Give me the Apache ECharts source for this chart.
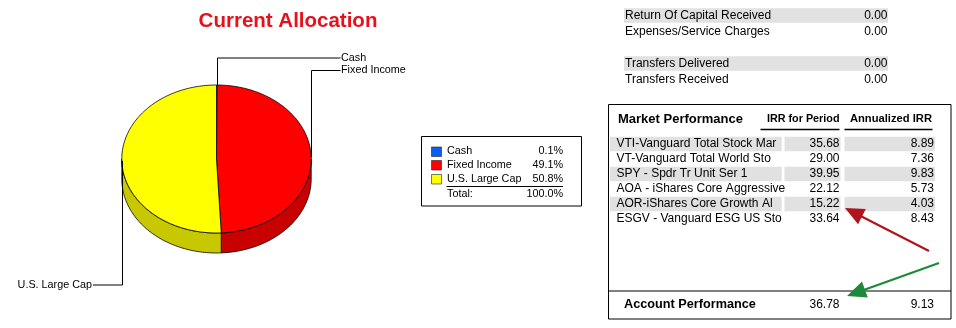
<!DOCTYPE html>
<html>
<head>
<meta charset="utf-8">
<script src="https://cdn.jsdelivr.net/npm/echarts@6/dist/echarts.min.js"></script>
<style>
html,body{margin:0;padding:0;background:#fff;}
#chart{width:956px;height:328px;}
</style>
</head>
<body>
<div id="chart"></div>
<script>
// ---------------- DATA ----------------
const allocCategories = ['Cash', 'Fixed Income', 'U.S. Large Cap'];
const allocPercent = [0.1, 49.1, 50.8];

const cashFlowLabels = ['Return Of Capital Received', 'Expenses/Service Charges', 'Transfers Delivered', 'Transfers Received'];
const cashFlowValues = [0.00, 0.00, 0.00, 0.00];

const holdingNames = [
  'VTI-Vanguard Total Stock Mar',
  'VT-Vanguard Total World Sto',
  'SPY - Spdr Tr Unit Ser 1',
  'AOA - iShares Core Aggressive',
  'AOR-iShares Core Growth Al',
  'ESGV - Vanguard ESG US Sto'
];
const irrForPeriod = [35.68, 29.00, 39.95, 22.12, 15.22, 33.64];
const annualizedIrr = [8.89, 7.36, 9.83, 5.73, 4.03, 8.43];
const accountPerformance = [36.78, 9.13];

// ---------------- LAYOUT / STYLE ----------------
const FONT = '"Liberation Sans", Arial, sans-serif';
const PIE = { cx: 216.5, cy: 159, rx: 94.7, ry: 74, depth: 20 };
const TOP_COLORS = ['#0b5ff0', '#ff0000', '#ffff00'];
const SIDE_COLORS = ['#0840a8', '#c80000', '#c8c800'];
const LABEL_Y = [58, 70.5, 285];
const RIGHT_LABEL_X = 340.5, LEFT_LABEL_X = 93;
const GREY = '#e1e1e1';

function txt(x, y, text, opt) {
  opt = opt || {};
  const align = opt.align || 'left';
  return {
    type: 'text', x: x, y: y, z: 10,
    style: {
      text: text,
      fill: opt.color || '#000',
      fontSize: opt.size || 12,
      fontFamily: opt.family || FONT,
      fontWeight: opt.weight || 'normal',
      align: align, textAlign: align,
      verticalAlign: 'middle', textVerticalAlign: 'middle'
    }
  };
}
function rect(x, y, w, h, fill, stroke, lw) {
  return { type: 'rect', z: 1, shape: { x: x, y: y, width: w, height: h },
    style: { fill: fill || 'none', stroke: stroke || null, lineWidth: lw || 1 } };
}
function line(x1, y1, x2, y2, color, lw) {
  return { type: 'line', z: 5, shape: { x1: x1, y1: y1, x2: x2, y2: y2 },
    style: { stroke: color || '#000', lineWidth: lw || 1 } };
}
function arrow(tail, tip, color) {
  const dx = tip[0] - tail[0], dy = tip[1] - tail[1];
  const len = Math.sqrt(dx * dx + dy * dy);
  const ux = dx / len, uy = dy / len;
  const hl = 19, hw = 8.5;
  const bx = tip[0] - ux * hl, by = tip[1] - uy * hl;
  const px = -uy, py = ux;
  return [
    { type: 'line', z: 6, shape: { x1: tail[0], y1: tail[1], x2: bx + ux * 2, y2: by + uy * 2 },
      style: { stroke: color, lineWidth: 2.2 } },
    { type: 'polygon', z: 6, shape: { points: [tip, [bx + px * hw, by + py * hw], [bx - px * hw, by - py * hw]] },
      style: { fill: color } }
  ];
}

// ---------------- GRAPHIC (texts, tables, legend box) ----------------
const G = [];
// Title
G.push(txt(288, 21, 'Current Allocation', { size: 20.5, weight: 'bold', color: '#e8101a', align: 'center' }));

// Legend box
G.push(rect(421.5, 136.5, 160, 69.5, '#fff', '#000', 1));
const legendRowY = [151.5, 165, 179];
const allocTotal = allocPercent.reduce((a, b) => a + b, 0);
allocCategories.forEach((c, i) => {
  const y = legendRowY[i];
  G.push({ type: 'rect', z: 3, shape: { x: 431.5, y: y - 4.5, width: 10, height: 9.5 },
    style: { fill: TOP_COLORS[i], stroke: '#222', lineWidth: 0.6 } });
  G.push(txt(447, y, c, { size: 10.8 }));
  G.push(txt(563, y, allocPercent[i].toFixed(1) + '%', { size: 10.8, align: 'right' }));
});
G.push(line(446.5, 186.5, 563, 186.5, '#000', 1));
G.push(txt(447, 194, 'Total:', { size: 10.8 }));
G.push(txt(563, 194, allocTotal.toFixed(1) + '%', { size: 10.8, align: 'right' }));

// Cash flow table
const cashRowY = [15.5, 32, 63.5, 80];
cashFlowLabels.forEach((lab, i) => {
  const y = cashRowY[i];
  if (i % 2 === 0) G.push(rect(624, y - 7.3, 264, 14.6, GREY));
  G.push(txt(625, y, lab, { size: 12 }));
  G.push(txt(887.5, y, cashFlowValues[i].toFixed(2), { size: 12, align: 'right' }));
});

// Market performance box
G.push(rect(608.5, 104.5, 342.5, 214.5, 'none', '#000', 1));
G.push(line(608.5, 291, 951, 291, '#000', 1));
G.push(txt(618, 119.5, 'Market Performance', { size: 13, weight: 'bold' }));
G.push(txt(839.5, 119, 'IRR for Period', { size: 10.8, weight: 'bold', align: 'right', family: '"Liberation Sans Narrow", "Liberation Sans", sans-serif' }));
G.push(txt(932, 119, 'Annualized IRR', { size: 11.2, weight: 'bold', align: 'right', family: '"Liberation Sans Narrow", "Liberation Sans", sans-serif' }));
G.push(line(760.5, 129.5, 839.5, 129.5, '#000', 1.5));
G.push(line(844.5, 129.5, 932.5, 129.5, '#000', 1.5));

holdingNames.forEach((name, i) => {
  const y = 144 + i * 15;
  if (i % 2 === 0) {
    G.push(rect(610, y - 7.3, 171.7, 14.6, GREY));
    G.push(rect(784.5, y - 7.3, 56, 14.6, GREY));
    G.push(rect(844.5, y - 7.3, 90.5, 14.6, GREY));
  }
  G.push(txt(616.5, y, name, { size: 12 }));
  G.push(txt(839.5, y, irrForPeriod[i].toFixed(2), { size: 12, align: 'right' }));
  G.push(txt(934, y, annualizedIrr[i].toFixed(2), { size: 12, align: 'right' }));
});

G.push(txt(624, 304.5, 'Account Performance', { size: 12.7, weight: 'bold' }));
G.push(txt(839.5, 304.5, accountPerformance[0].toFixed(2), { size: 12, align: 'right' }));
G.push(txt(934, 304.5, accountPerformance[1].toFixed(2), { size: 12, align: 'right' }));

// Arrows
arrow([929, 251], [845, 208], '#b0141e').forEach(e => G.push(e));
arrow([939, 263], [847, 296], '#1c8a3a').forEach(e => G.push(e));

// ---------------- 3D PIE (custom series) ----------------
function renderSlice(params, api) {
  const i = params.dataIndex;
  const total = allocPercent.reduce((a, b) => a + b, 0);
  let start = 0;
  for (let j = 0; j < i; j++) start += allocPercent[j];
  const v = api.value(0);
  const TWO_PI = Math.PI * 2;
  const a0 = start / total * TWO_PI;
  const a1 = (start + v) / total * TWO_PI;
  const P = (t, dy) => [PIE.cx + PIE.rx * Math.sin(t), PIE.cy - PIE.ry * Math.cos(t) + (dy || 0)];
  const children = [];

  // side wall (front half only)
  const s0 = Math.max(a0, Math.PI / 2), s1 = Math.min(a1, Math.PI * 1.5);
  if (s1 > s0) {
    const n = Math.max(2, Math.ceil((s1 - s0) / 0.02));
    const pts = [];
    for (let k = 0; k <= n; k++) pts.push(P(s0 + (s1 - s0) * k / n));
    for (let k = n; k >= 0; k--) pts.push(P(s0 + (s1 - s0) * k / n, PIE.depth));
    children.push({ type: 'polygon', z2: 1, shape: { points: pts },
      style: { fill: SIDE_COLORS[i], stroke: '#000', lineWidth: 0.8, lineJoin: 'round' } });
  }
  // top surface
  const n2 = Math.max(2, Math.ceil((a1 - a0) / 0.02));
  const top = [[PIE.cx, PIE.cy]];
  for (let k = 0; k <= n2; k++) top.push(P(a0 + (a1 - a0) * k / n2));
  children.push({ type: 'polygon', z2: 2, shape: { points: top },
    style: { fill: TOP_COLORS[i], stroke: '#000', lineWidth: 0.8, lineJoin: 'round' } });

  // leader line + label
  const m = (a0 + a1) / 2;
  const p = P(m);
  const ly = LABEL_Y[i];
  const right = Math.sin(m) >= 0;
  const ex = right ? RIGHT_LABEL_X : LEFT_LABEL_X;
  const lx = Math.round(p[0]) + 0.5;
  children.push({ type: 'polyline', z2: 5, shape: { points: [[lx, p[1]], [lx, ly], [ex, ly]] },
    style: { stroke: '#000', lineWidth: 1, fill: 'none' } });
  children.push({ type: 'text', z2: 6, x: right ? ex + 0.5 : ex - 1, y: ly,
    style: { text: allocCategories[i], fill: '#000', fontSize: 10.8, fontFamily: FONT,
      align: right ? 'left' : 'right', textAlign: right ? 'left' : 'right',
      verticalAlign: 'middle', textVerticalAlign: 'middle' } });
  return { type: 'group', children: children };
}

const chart = echarts.init(document.getElementById('chart'), null, { renderer: 'canvas' });
chart.setOption({
  backgroundColor: '#fff',
  animation: false,
  series: [{
    type: 'custom',
    coordinateSystem: 'none',
    renderItem: renderSlice,
    data: allocPercent.map((v, i) => ({ name: allocCategories[i], value: [v] }))
  }],
  graphic: { elements: G }
});
</script>
</body>
</html>
